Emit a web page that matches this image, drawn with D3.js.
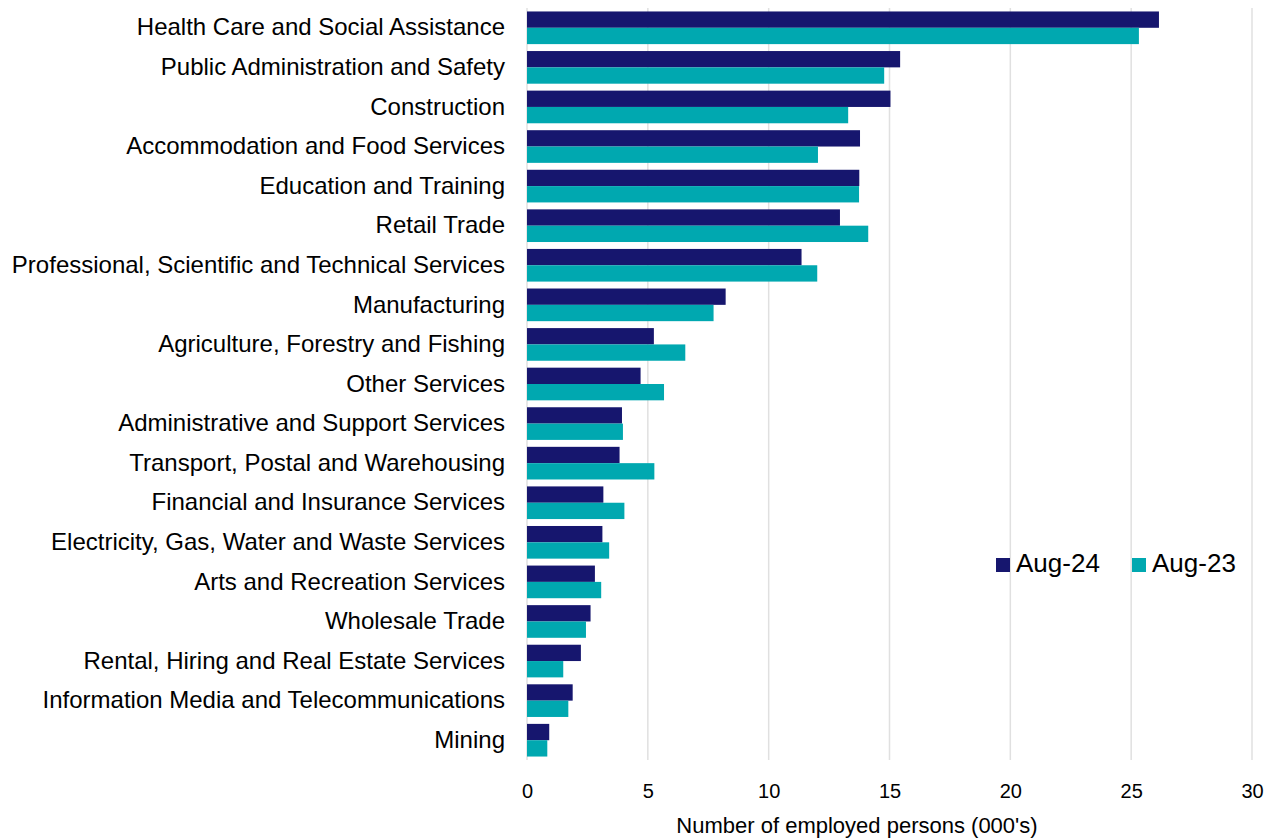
<!DOCTYPE html>
<html><head><meta charset="utf-8">
<script src="https://cdn.jsdelivr.net/npm/d3@7"></script>
<style>body{margin:0;background:#fff}svg{display:block}text{font-family:"Liberation Sans",Arial,sans-serif;fill:#000}</style>
</head><body><svg id="c" width="1276" height="839"></svg>
<script>
const categories = ["Health Care and Social Assistance","Public Administration and Safety","Construction","Accommodation and Food Services","Education and Training","Retail Trade","Professional, Scientific and Technical Services","Manufacturing","Agriculture, Forestry and Fishing","Other Services","Administrative and Support Services","Transport, Postal and Warehousing","Financial and Insurance Services","Electricity, Gas, Water and Waste Services","Arts and Recreation Services","Wholesale Trade","Rental, Hiring and Real Estate Services","Information Media and Telecommunications","Mining"];
const aug24 = [26.15,15.44,15.04,13.78,13.75,12.95,11.36,8.22,5.25,4.70,3.93,3.83,3.16,3.12,2.81,2.63,2.23,1.89,0.92];
const aug23 = [25.32,14.78,13.29,12.04,13.74,14.12,12.01,7.72,6.55,5.67,3.97,5.27,4.03,3.40,3.07,2.44,1.50,1.71,0.84];
const seriesNames = ["Aug-24","Aug-23"];
const xTicks = [0,5,10,15,20,25,30];
const xTitle = "Number of employed persons (000's)";
const colors = ["#16166e","#00a8b0"];

(function(){
const svg = d3.select("#c");
const pLeft = 527, pRight = 1252, pTop = 8, pBottom = 760;
const x = d3.scaleLinear().domain([0,30]).range([pLeft,pRight]);
const y = d3.scaleBand().domain(categories).range([pTop,pBottom]).paddingInner(0.175).paddingOuter(0.0875);
const sub = d3.scaleBand().domain(seriesNames).range([0,y.bandwidth()]);

svg.append("g").selectAll("line").data(xTicks).join("line")
  .attr("x1",d=>x(d)).attr("x2",d=>x(d)).attr("y1",pTop).attr("y2",pBottom)
  .attr("stroke","#e0e0e0").attr("stroke-width",1.5);

const data = [aug24, aug23];
data.forEach((vals,si)=>{
  svg.append("g").selectAll("rect").data(vals).join("rect")
    .attr("x",x(0)).attr("y",(d,i)=>y(categories[i])+sub(seriesNames[si]))
    .attr("width",d=>x(d)-x(0)).attr("height",sub.bandwidth())
    .attr("fill",colors[si]);
});

const ya = svg.append("g").attr("transform",`translate(${pLeft},0)`).call(d3.axisLeft(y).tickSize(0).tickPadding(22));
ya.select(".domain").remove();
ya.selectAll("text").style("font-size","24px").style("font-family","Liberation Sans, Arial, sans-serif").attr("fill","#000");

const xa = svg.append("g").attr("transform",`translate(0,${pBottom})`).call(d3.axisBottom(x).tickValues(xTicks).tickSize(0).tickPadding(24));
xa.select(".domain").remove();
xa.selectAll("text").style("font-size","20px").style("font-family","Liberation Sans, Arial, sans-serif").attr("fill","#000");

svg.append("text").attr("x",857).attr("y",833).attr("text-anchor","middle").style("font-size","22px").text(xTitle);

const lg = svg.append("g");
const lx = [996,1132];
seriesNames.forEach((s,i)=>{
  lg.append("rect").attr("x",lx[i]).attr("y",558).attr("width",14).attr("height",14).attr("fill",colors[i]);
  lg.append("text").attr("x",lx[i]+20).attr("y",572).style("font-size","26px").text(s);
});
})();
</script></body></html>
